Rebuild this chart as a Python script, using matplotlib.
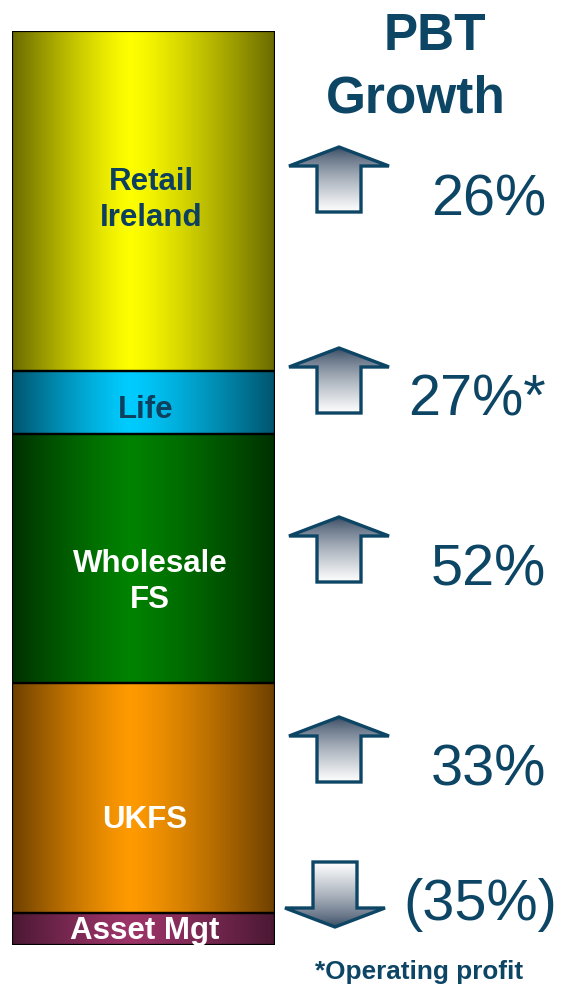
import numpy as np
import matplotlib
matplotlib.use("Agg")
import matplotlib.pyplot as plt
from matplotlib.colors import to_rgb
from matplotlib.patches import Polygon

plt.rcParams['font.family'] = ['Liberation Sans', 'DejaVu Sans']

# share of group PBT, bottom to top
segments = ["Asset Mgt", "UKFS", "Wholesale\nFS", "Life", "Retail\nIreland"]
shares = [3.5, 25.2, 27.2, 6.9, 37.2]
growth = ["(35%)", "33%", "52%", "27%*", "26%"]
direction = [-1, 1, 1, 1, 1]

# gradient colours (centre, edge) for each segment
centre_cols = ["#9c3468", "#ff9a00", "#008200", "#00ccff", "#ffff00"]
edge_cols = ["#4a1833", "#6e4000", "#003000", "#00546e", "#6a6a00"]
label_cols = ["white", "white", "white", "#0d3f5e", "#0d3f5e"]

TEAL = "#0d4565"
W, H = 562, 985

fig = plt.figure(figsize=(W / 100, H / 100), dpi=100)

# --- stacked bar ---
bx0, bx1, by0, by1 = 12, 275, 31, 945
ax = fig.add_axes([bx0 / W, 1 - by1 / H, (bx1 - bx0) / W, (by1 - by0) / H])
ax.set_xlim(-0.5, 0.5)
ax.set_ylim(0, sum(shares))
ax.axis("off")

xs = np.linspace(0, 1, 300)
d = np.where(xs < 0.45, (0.45 - xs) / 0.45, (xs - 0.45) / 0.55)
s = np.clip(d, 0, 1) ** 1.25

bottom = 0
for name, val, c0, c1 in zip(segments, shares, centre_cols, edge_cols):
    bar = ax.bar(0, val, width=1.0, bottom=bottom, color="none",
                 edgecolor="black", linewidth=1.6, zorder=3)[0]
    c0, c1 = np.array(to_rgb(c0)), np.array(to_rgb(c1))
    img = c0[None, :] * (1 - s[:, None]) + c1[None, :] * s[:, None]
    im = ax.imshow(img[None, :, :], extent=[-0.5, 0.5, bottom, bottom + val],
                   aspect="auto", zorder=2, interpolation="bilinear")
    im.set_clip_path(bar)
    bottom += val

# --- overlay in pixel coordinates ---
ov = fig.add_axes([0, 0, 1, 1], zorder=5)
ov.set_xlim(0, W)
ov.set_ylim(H, 0)
ov.axis("off")
ov.patch.set_alpha(0)

seg_label_xy = [(145, 931), (145, 820), (150, 582), (146, 410), (151, 200)]
for name, (x, y), col in zip(segments, seg_label_xy, label_cols):
    ov.text(x, y, name, ha="center", va="center", fontsize=22.5,
            fontweight="bold", color=col, linespacing=1.22)

ov.text(435, 36, "PBT", ha="center", va="center", fontsize=37,
        fontweight="bold", color=TEAL)
ov.text(416, 99, "Growth", ha="center", va="center", fontsize=37,
        fontweight="bold", color=TEAL)


def arrow(cx, top, up):
    hw, sw, hh, sh = 50, 22, 19, 46
    if up:
        pts = [(cx, top), (cx + hw, top + hh), (cx + sw, top + hh),
               (cx + sw, top + hh + sh), (cx - sw, top + hh + sh),
               (cx - sw, top + hh), (cx - hw, top + hh)]
    else:
        pts = [(cx - sw, top), (cx + sw, top), (cx + sw, top + sh),
               (cx + hw, top + sh), (cx, top + sh + hh), (cx - hw, top + sh),
               (cx - sw, top + sh)]
    poly = Polygon(pts, closed=True, facecolor="none", edgecolor=TEAL,
                   linewidth=2.4, zorder=4, joinstyle="miter")
    ov.add_patch(poly)
    t = np.linspace(0, 1, 200) ** 0.75
    if not up:
        t = t[::-1]
    dark, light = np.array(to_rgb("#33465f")), np.array([1.0, 1.0, 1.0])
    img = dark[None, :] * (1 - t[:, None]) + light[None, :] * t[:, None]
    im = ov.imshow(img[:, None, :], extent=[cx - hw, cx + hw, top + sh + hh, top],
                   aspect="auto", zorder=3, interpolation="bilinear")
    im.set_clip_path(poly)


arrow_tops = [862, 717, 517, 348, 147]
arrow_cx = [335, 339, 339, 339, 339]
text_xy = [(557, 905), (546, 771), (546, 571), (546, 401), (546, 201)]
for g, dr, top, cx, (x, y) in zip(growth, direction, arrow_tops, arrow_cx, text_xy):
    arrow(cx, top, dr > 0)
    ov.text(x, y, g, ha="right", va="center", fontsize=41.5, color=TEAL)

ov.text(419, 972, "*Operating profit", ha="center", va="center",
        fontsize=18.8, fontweight="bold", color=TEAL)
ov.set_xlim(0, W)
ov.set_ylim(H, 0)

fig.savefig("out.png", dpi=100)
